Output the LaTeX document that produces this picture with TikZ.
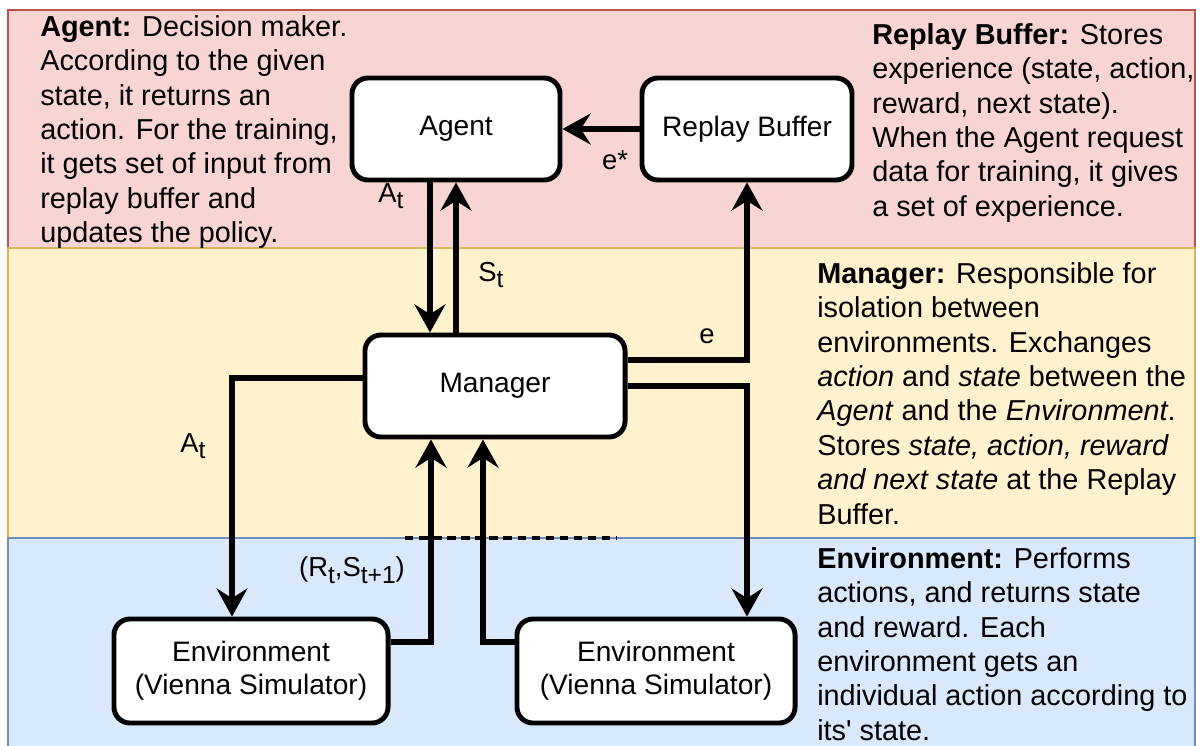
\documentclass[tikz,border=0pt]{standalone}
\usepackage{fontspec}
\setmainfont{Liberation Sans}
\usetikzlibrary{arrows.meta}

\definecolor{agentfill}{HTML}{F8D5D2}
\definecolor{agentline}{HTML}{B85450}
\definecolor{managerfill}{HTML}{FFF2CC}
\definecolor{managerline}{HTML}{D6B656}
\definecolor{envfill}{HTML}{DAE8FC}
\definecolor{envline}{HTML}{6C8EBF}

\newcommand{\lowsub}[1]{\raisebox{-0.45ex}{\fontsize{17.5}{17.5}\selectfont #1}}

\begin{document}
\begin{tikzpicture}[x=0.025cm, y=-0.025cm,
  box/.style={draw, line width=3.5pt, rounded corners=0.4cm, fill=white,
    minimum height=2.55cm, align=center, font=\fontsize{20}{23.5}\selectfont},
  flow/.style={line width=3.8pt, -{Stealth[length=20pt,width=22pt,inset=7pt]}},
  note/.style={anchor=north west, inner sep=0pt, align=left,
    font=\fontsize{20.5}{24.5}\selectfont},
  lbl/.style={inner sep=0pt, font=\fontsize{19.5}{19.5}\selectfont}]

\useasboundingbox (0,0) rectangle (1196,745);

% layers
\draw[line width=1.5pt, draw=agentline, fill=agentfill] (8,10) rectangle (1195,248);
\draw[line width=1.5pt, draw=managerline, fill=managerfill] (8,248) rectangle (1195,538);
\draw[line width=1.5pt, draw=envline, fill=envfill] (8,538) rectangle (1195,760);
\draw[line width=2.2pt, dash pattern=on 6pt off 4pt] (405,538) -- (617,538);

% boxes
\node[box, minimum width=5.2cm] (agent) at (456,129) {Agent};
\node[box, minimum width=5.25cm] (buffer) at (747,129) {Replay Buffer};
\node[box, minimum width=6.5cm] (manager) at (495,386) {Manager};
\node[box, minimum width=6.85cm, minimum height=2.6cm] (envA) at (251,671) {Environment\\(Vienna Simulator)};
\node[box, minimum width=6.95cm, minimum height=2.6cm] (envB) at (656,671) {Environment\\(Vienna Simulator)};

% connectors
\draw[flow] ([xshift=-0.65cm]agent.south) -- ([xshift=-0.65cm]agent.south |- manager.north);
\draw[flow] (agent.south |- manager.north) -- (agent.south);
\draw[flow] (buffer.west) -- (agent.east);
\draw[flow] ([yshift=0.65cm]manager.east) -| (buffer.south);
\draw[flow] (manager.east) -| (buffer.south |- envB.north);
\draw[flow] ([yshift=0.2cm]manager.west) -| ([xshift=-0.475cm]envA.north);
\draw[flow] ([yshift=0.725cm]envA.east) -| ([xshift=-1.6cm]manager.south);
\draw[flow] ([yshift=0.725cm]envB.west) -| ([xshift=-0.3cm]manager.south);

% labels
\node[lbl] (actTop) at (391,196) {A\lowsub{t}};
\node[lbl] (stateTop) at (491,275) {S\lowsub{t}};
\node[lbl] (expStar) at (615,160) {e*};
\node[lbl] (exp) at (707,336) {e};
\node[lbl] (actLeft) at (193,446) {A\lowsub{t}};
\node[lbl] (rewState) at (352,570) {(R\lowsub{t},S\lowsub{t+1})};

% descriptions
\node[note] (agentNote) at (40,15) {\textbf{Agent:} Decision maker.\\
According to the given\\
state, it returns an\\
action. For the training,\\
it gets set of input from\\
replay buffer and\\
updates the policy.};
\node[note] (bufferNote) at (872,23) {\textbf{Replay Buffer:} Stores\\
experience (state, action,\\
reward, next state).\\
When the Agent request\\
data for training, it gives\\
a set of experience.};
\node[note] (managerNote) at (817,262) {\textbf{Manager:} Responsible for\\
isolation between\\
environments. Exchanges\\
\textit{action} and \textit{state} between the\\
\textit{Agent} and the \textit{Environment}.\\
Stores \textit{state, action, reward}\\
\textit{and next state} at the Replay\\
Buffer.};
\node[note] (envNote) at (817,547) {\textbf{Environment:} Performs\\
actions, and returns state\\
and reward. Each\\
environment gets an\\
individual action according to\\
its\textquotesingle{} state.};

\end{tikzpicture}
\end{document}
